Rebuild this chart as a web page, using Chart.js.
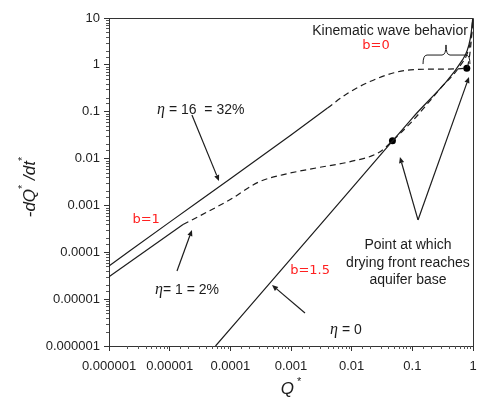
<!DOCTYPE html>
<html><head><meta charset="utf-8">
<script src="https://cdn.jsdelivr.net/npm/chart.js@4.4.0/dist/chart.umd.min.js"></script>
<style>html,body{margin:0;padding:0;background:#fff}#wrap{width:478px;height:397px;position:relative}</style>
</head><body><div id="wrap"><canvas id="c" width="478" height="397" style="width:478px;height:397px"></canvas></div>
<script>
// ---- data (Q* = discharge, R = -dQ*/dt*) ----
const xTickLabels = ['0.000001','0.00001','0.0001','0.001','0.01','0.1','1'];
const yTickLabels = ['0.000001','0.00001','0.0001','0.001','0.01','0.1','1','10'];

const eta16SolidQ = [1e-6, 1e-5, 1e-4, 1e-3, 0.004];
const eta16SolidR = [5.1e-5, 4.4e-4, 3.7e-3, 0.032, 0.12];
const eta16DashQ  = [0.004, 0.0085, 0.020, 0.050, 0.093, 0.26, 0.79, 0.88, 0.94, 0.98, 0.995];
const eta16DashR  = [0.12, 0.245, 0.44, 0.68, 0.78, 0.81, 0.85, 1.6, 3.5, 7, 10];

const eta1SolidQ = [1e-6, 1.66e-5];
const eta1SolidR = [3.0e-5, 3.9e-4];
const eta1DashQ  = [1.66e-5, 9.8e-5, 3.0e-4, 7.2e-4, 2.6e-3, 9.1e-3, 0.029, 0.047, 0.1, 0.3, 0.6, 0.85, 0.95, 0.99];
const eta1DashR  = [3.9e-4, 1.32e-3, 3.2e-3, 4.5e-3, 6.3e-3, 8.5e-3, 0.0138, 0.024, 0.063, 0.33, 0.92, 2.2, 4.8, 10];

const eta0Q = [5.7e-5, 1e-3, 0.01, 0.1, 0.68, 0.8, 0.9, 0.96, 0.99];
const eta0R = [1e-6, 7.3e-5, 2.32e-3, 0.073, 1.31, 2.0, 3.6, 6.5, 10];

const dryingPointQ = [0.047, 0.79];
const dryingPointR = [0.024, 0.85];

function pts(q, r) { return q.map((v, i) => ({x: v, y: r[i]})); }

const INK = '#1c1c1c';
const RED = '#ff2020';
const SANS = '"Liberation Sans", Arial, sans-serif';
const SERIF = '"Liberation Serif", "Times New Roman", serif';

function isMajor(v) { const l = Math.log10(v); return Math.abs(l - Math.round(l)) < 1e-6; }

// annotations in data coordinates
const texts = [
  {x: 6.2e-6, y: 0.109, align: 'left', runs: [{t: 'η', f: 'italic 16px ' + SERIF}, {t: ' = 16  = 32%', f: '14px ' + SANS}]},
  {x: 4.1e-6, y: 4.9e-4, align: 'center', color: RED, runs: [{t: 'b=1', f: '13px "DejaVu Sans"'}]},
  {x: 1.93e-5, y: 1.57e-5, align: 'center', runs: [{t: 'η', f: 'italic 16px ' + SERIF}, {t: '= 1 = 2%', f: '14px ' + SANS}]},
  {x: 2.06e-3, y: 4.0e-5, align: 'center', color: RED, runs: [{t: 'b=1.5', f: '13px "DejaVu Sans"'}]},
  {x: 8.05e-3, y: 2.2e-6, align: 'center', runs: [{t: 'η', f: 'italic 16px ' + SERIF}, {t: ' = 0', f: '14px ' + SANS}]},
  {x: 0.0847, y: 1.43e-4, align: 'center', runs: [{t: 'Point at which', f: '14px ' + SANS}]},
  {x: 0.0847, y: 5.9e-5, align: 'center', runs: [{t: 'drying front reaches', f: '14px ' + SANS}]},
  {x: 0.0847, y: 2.56e-5, align: 'center', runs: [{t: 'aquifer base', f: '14px ' + SANS}]},
  {x: 0.0429, y: 5.28, align: 'center', runs: [{t: 'Kinematic wave behavior', f: '14px ' + SANS}]},
  {x: 0.0252, y: 2.52, align: 'center', color: RED, runs: [{t: 'b=0', f: '13px "DejaVu Sans"'}]}
];
const arrows = [
  {x1: 2.33e-5, y1: 0.085, x2: 6.5e-5, y2: 0.00333},
  {x1: 1.32e-5, y1: 4.0e-5, x2: 2.33e-5, y2: 3.0e-4},
  {x1: 1.70e-3, y1: 5.07e-6, x2: 4.86e-4, y2: 2.0e-5},
  {x1: 0.124, y1: 4.9e-4, x2: 0.0625, y2: 0.0108},
  {x1: 0.124, y1: 4.9e-4, x2: 0.859, y2: 0.551}
];
const brace = {xl: 0.150, xm: 0.359, xr: 0.891, yEnd: 1.04, yBar: 1.62, yPeak: 2.66};

function drawRuns(ctx, runs, x, y, align, color) {
  let w = 0;
  runs.forEach(r => { ctx.font = r.f; w += ctx.measureText(r.t).width; });
  let cx = align === 'center' ? x - w / 2 : (align === 'right' ? x - w : x);
  ctx.fillStyle = color || INK;
  ctx.textAlign = 'left';
  ctx.textBaseline = 'middle';
  runs.forEach(r => { ctx.font = r.f; ctx.fillText(r.t, cx, y + (r.dy || 0)); cx += ctx.measureText(r.t).width; });
}

function arrow(ctx, x1, y1, x2, y2) {
  ctx.beginPath(); ctx.moveTo(x1, y1);
  const a = Math.atan2(y2 - y1, x2 - x1);
  const L = 6, H = 2.6;
  const bx = x2 - L * Math.cos(a), by = y2 - L * Math.sin(a);
  ctx.lineTo(bx, by); ctx.stroke();
  ctx.beginPath();
  ctx.moveTo(x2, y2);
  ctx.lineTo(bx + H * Math.sin(a), by - H * Math.cos(a));
  ctx.lineTo(bx - H * Math.sin(a), by + H * Math.cos(a));
  ctx.closePath(); ctx.fill();
}

const annot = {
  id: 'annot',
  afterDraw(chart) {
    const ctx = chart.ctx, xs = chart.scales.x, ys = chart.scales.y, ca = chart.chartArea;
    const px = v => xs.getPixelForValue(v), py = v => ys.getPixelForValue(v);
    ctx.save();
    // box top/right
    ctx.strokeStyle = '#333'; ctx.lineWidth = 1;
    ctx.beginPath();
    ctx.moveTo(ca.left, ca.top + 0.5); ctx.lineTo(ca.right + 0.5, ca.top + 0.5); ctx.lineTo(ca.right + 0.5, ca.bottom);
    ctx.stroke();
    // minor ticks
    ctx.strokeStyle = '#555';
    ctx.beginPath();
    xs.ticks.forEach(t => { if (!isMajor(t.value)) { const p = Math.round(px(t.value)) + 0.5; ctx.moveTo(p, ca.bottom); ctx.lineTo(p, ca.bottom + 3); } });
    ys.ticks.forEach(t => { if (!isMajor(t.value)) { const p = Math.round(py(t.value)) + 0.5; ctx.moveTo(ca.left - 3, p); ctx.lineTo(ca.left, p); } });
    ctx.stroke();
    // texts
    texts.forEach(t => drawRuns(ctx, t.runs, px(t.x), py(t.y), t.align, t.color));
    // arrows
    ctx.strokeStyle = INK; ctx.fillStyle = INK; ctx.lineWidth = 1.2;
    arrows.forEach(a => arrow(ctx, px(a.x1), py(a.y1), px(a.x2), py(a.y2)));
    // brace
    const xl = px(brace.xl), xm = px(brace.xm), xr = px(brace.xr);
    const ye = py(brace.yEnd), yb = py(brace.yBar), yp = py(brace.yPeak);
    ctx.lineWidth = 1;
    ctx.beginPath();
    ctx.moveTo(xl, ye);
    ctx.quadraticCurveTo(xl, yb, xl + 4, yb);
    ctx.lineTo(xm - 4, yb);
    ctx.quadraticCurveTo(xm, yb, xm, yp);
    ctx.quadraticCurveTo(xm, yb, xm + 4, yb);
    ctx.lineTo(xr - 4, yb);
    ctx.quadraticCurveTo(xr, yb, xr, ye);
    ctx.stroke();
    // axis titles
    const f17 = 'italic 17px ' + SANS, fs = '11px ' + SANS;
    drawRuns(ctx, [{t: 'Q', f: f17}, {t: ' *', f: fs, dy: -7}], (ca.left + ca.right) / 2, ca.bottom + 43, 'center');
    ctx.translate(30, (ca.top + ca.bottom) / 2 + 5);
    ctx.rotate(-Math.PI / 2);
    drawRuns(ctx, [{t: '-dQ', f: f17}, {t: '*', f: fs, dy: -7}, {t: ' /dt', f: f17}, {t: '*', f: fs, dy: -7}], 0, 0, 'center');
    ctx.restore();
  }
};

const lineBase = {showLine: true, pointRadius: 0, borderColor: INK, backgroundColor: INK, borderWidth: 1.2, fill: false, cubicInterpolationMode: 'monotone'};

new Chart(document.getElementById('c'), {
  type: 'scatter',
  data: {
    datasets: [
      Object.assign({label: 'η = 16 (solid)', data: pts(eta16SolidQ, eta16SolidR)}, lineBase),
      Object.assign({label: 'η = 16 (dashed)', data: pts(eta16DashQ, eta16DashR), borderDash: [6, 4]}, lineBase),
      Object.assign({label: 'η = 1 (solid)', data: pts(eta1SolidQ, eta1SolidR)}, lineBase),
      Object.assign({label: 'η = 1 (dashed)', data: pts(eta1DashQ, eta1DashR), borderDash: [6, 4]}, lineBase),
      Object.assign({label: 'η = 0', data: pts(eta0Q, eta0R)}, lineBase),
      {label: 'drying front reaches aquifer base', data: pts(dryingPointQ, dryingPointR), showLine: false,
       pointRadius: 3.5, pointBackgroundColor: '#000', pointBorderColor: '#000', pointBorderWidth: 0}
    ]
  },
  options: {
    responsive: false,
    maintainAspectRatio: false,
    animation: false,
    devicePixelRatio: 1,
    layout: {padding: {left: 0, top: 18, right: 5, bottom: 0}},
    plugins: {legend: {display: false}, tooltip: {enabled: false}},
    scales: {
      x: {
        type: 'logarithmic', min: 1e-6, max: 1,
        afterFit: s => { s.height = 51; s.paddingLeft = 0; s.paddingRight = 0; },
        border: {display: true, color: '#333', width: 1},
        grid: {display: true, drawOnChartArea: false, drawTicks: true, tickLength: 5,
               tickColor: c => (c.tick && isMajor(c.tick.value)) ? '#333' : 'rgba(0,0,0,0)'},
        ticks: {autoSkip: false, maxRotation: 0, padding: 8, color: '#222', font: {family: SANS, size: 13},
                callback: v => isMajor(v) ? xTickLabels[Math.round(Math.log10(v)) + 6] : ''}
      },
      y: {
        type: 'logarithmic', min: 1e-6, max: 10,
        afterFit: s => { s.width = 109; s.paddingTop = 0; s.paddingBottom = 0; },
        border: {display: true, color: '#333', width: 1},
        grid: {display: true, drawOnChartArea: false, drawTicks: true, tickLength: 5,
               tickColor: c => (c.tick && isMajor(c.tick.value)) ? '#333' : 'rgba(0,0,0,0)'},
        ticks: {autoSkip: false, padding: 4, color: '#222', font: {family: SANS, size: 13},
                callback: v => isMajor(v) ? yTickLabels[Math.round(Math.log10(v)) + 6] : ''}
      }
    }
  },
  plugins: [annot]
});
</script></body></html>
